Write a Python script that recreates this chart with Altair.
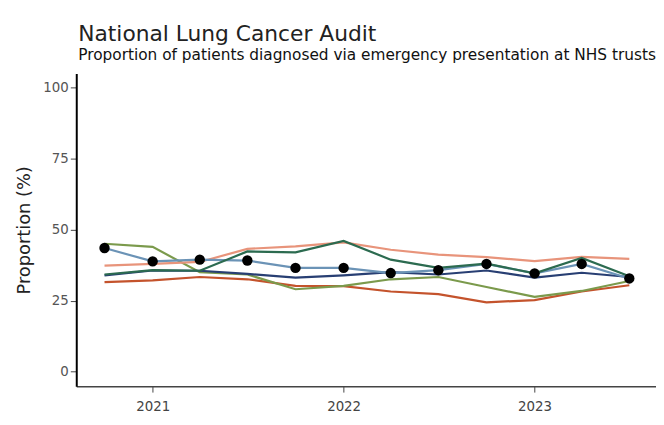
import altair as alt
import pandas as pd

# Quarterly periods
dates = ["2020-10-01", "2021-01-01", "2021-04-01", "2021-07-01", "2021-10-01", "2022-01-01",
         "2022-04-01", "2022-07-01", "2022-10-01", "2023-01-01", "2023-04-01", "2023-07-01"]

# Series values (%)
red    = [31.5, 32.1, 33.3, 32.5, 30.2, 30.1, 28.2, 27.3, 24.4, 25.2, 28.2, 30.4]
olive  = [45.0, 43.9, 35.0, 34.2, 29.0, 30.2, 32.5, 33.3, 29.8, 26.3, 28.4, 31.9]
salmon = [37.3, 37.9, 38.6, 43.2, 44.1, 45.5, 42.9, 41.2, 40.3, 38.9, 40.4, 39.7]
navy   = [33.9, 35.6, 35.5, 34.4, 33.1, 33.9, 35.0, 34.2, 35.6, 33.1, 34.8, 33.3]
steel  = [43.5, 38.8, 39.4, 39.1, 36.5, 36.5, 34.7, 35.7, 37.9, 34.6, 37.9, 32.8]
green  = [34.2, 35.7, 35.5, 42.3, 42.0, 46.0, 39.4, 36.5, 38.0, 34.6, 40.0, 33.6]

series_names = ["Trust 1", "Trust 2", "Trust 3", "Trust 4", "Trust 5", "Trust 6"]
series_vals = [red, olive, salmon, navy, steel, green]
series_colors = ["#c4532c", "#7b9a4c", "#e8947b", "#283f73", "#6b93b6", "#2c6b50"]

rows = []
for name, vals in zip(series_names, series_vals):
    for d, v in zip(dates, vals):
        rows.append({"date": d, "trust": name, "value": v})
df = pd.DataFrame(rows)
dots = pd.DataFrame({"date": dates, "value": steel})

FONT = "DejaVu Sans"

x_enc = alt.X(
    "date:T",
    scale=alt.Scale(type="utc",
                    domain=[alt.DateTime(year=2020, month=8, date=8, utc=True),
                            alt.DateTime(year=2023, month=8, date=21, utc=True)]),
    axis=alt.Axis(
        title=None,
        format="%Y",
        values=[alt.DateTime(year=2021, month=1, date=1, utc=True),
                alt.DateTime(year=2022, month=1, date=1, utc=True),
                alt.DateTime(year=2023, month=1, date=1, utc=True)],
        domainColor="#444444", domainWidth=1.5,
        tickColor="#444444", tickSize=6, labelPadding=8,
        labelFont=FONT, labelFontSize=13.5, labelColor="#444444",
        grid=False,
    ),
)
y_enc = alt.Y(
    "value:Q",
    scale=alt.Scale(domain=[-5.1, 104.9], nice=False, zero=False),
    axis=alt.Axis(
        title="Proportion (%)",
        values=[0, 25, 50, 75, 100],
        domainColor="#000000", domainWidth=2,
        tickColor="#444444", tickSize=6, labelPadding=2,
        labelFont=FONT, labelFontSize=13.5, labelColor="#555555",
        titleFont=FONT, titleFontSize=18, titleFontWeight="normal", titleColor="#222222",
        titlePadding=10,
        grid=False,
    ),
)

lines = alt.Chart(df).mark_line(strokeWidth=2.2).encode(
    x=x_enc,
    y=y_enc,
    color=alt.Color("trust:N", scale=alt.Scale(domain=series_names, range=series_colors), legend=None),
    detail="trust:N",
)

points = alt.Chart(dots).mark_circle(size=110, color="#000000", opacity=1).encode(
    x="date:T",
    y="value:Q",
)

chart = alt.layer(lines, points).properties(
    width=586,
    height=316,
    autosize=alt.AutoSizeParams(type="none"),
    padding={"left": 69, "top": 64, "right": 0, "bottom": 35},
    title=alt.TitleParams(
        "National Lung Cancer Audit",
        subtitle="Proportion of patients diagnosed via emergency presentation at NHS trusts",
        anchor="start",
        frame="group",
        font=FONT, fontSize=22, fontWeight="normal", color="#222222",
        subtitleFont=FONT, subtitleFontSize=15.5, subtitleColor="#111111",
        subtitlePadding=2,
        offset=9, dx=2,
    ),
).configure_view(stroke=None)

chart.save("out.html", embed_options={"renderer": "svg", "actions": False})
